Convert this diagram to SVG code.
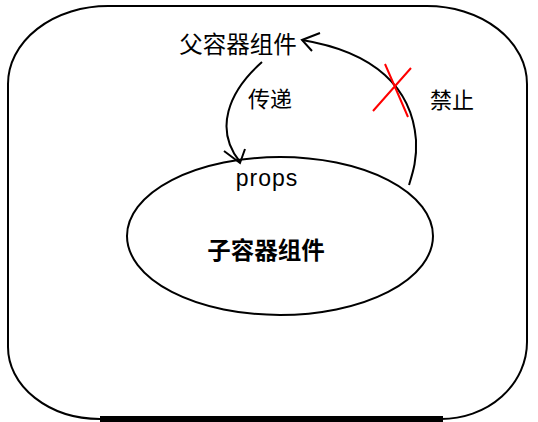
<svg xmlns="http://www.w3.org/2000/svg" width="538" height="422" viewBox="0 0 538 422">
<style>
.ln{fill:none;stroke:#000;stroke-width:2}
.t{font-family:"Noto Sans CJK SC","Liberation Sans",sans-serif;fill:#000}
.red{stroke:#f00;stroke-width:2;fill:none}
</style>
<rect width="538" height="422" fill="#fff"/>
<g id="parent">
<path class="ln" d="M108,6 H427 A100,78 0 0 1 527,84 V342 A86,77 0 0 1 441,419 H100 A92,72 0 0 1 8,347 V84 A100,78 0 0 1 108,6 Z"/>
<rect x="100" y="416" width="343" height="6" fill="#000"/>
<text class="t" x="238" y="53" font-size="23.5" text-anchor="middle">父容器组件</text>
</g>
<g id="child">
<ellipse class="ln" cx="280" cy="236" rx="153" ry="79"/>
<text x="267" y="186" font-size="23" letter-spacing="1" font-family="'Liberation Sans',Arial,sans-serif" text-anchor="middle">props</text>
<text class="t" x="266" y="259" font-size="23.5" font-weight="bold" text-anchor="middle">子容器组件</text>
</g>
<g id="connectors">
<path class="ln" d="M262,62 C228,92 214,130 240,162"/>
<path class="ln" d="M224,151 L240,163 L245,149"/>
<text class="t" x="270" y="107" font-size="22" text-anchor="middle">传递</text>
<path class="ln" d="M302,40 C375,52 412,88 416,140 C417,160 413,172 409,185"/>
<path class="ln" d="M320,33 L302,40 L312,51"/>
<path class="red" d="M385,64 L408,117 M411,68 L373,111"/>
<text class="t" x="452" y="108" font-size="22" text-anchor="middle">禁止</text>
</g>
</svg>
